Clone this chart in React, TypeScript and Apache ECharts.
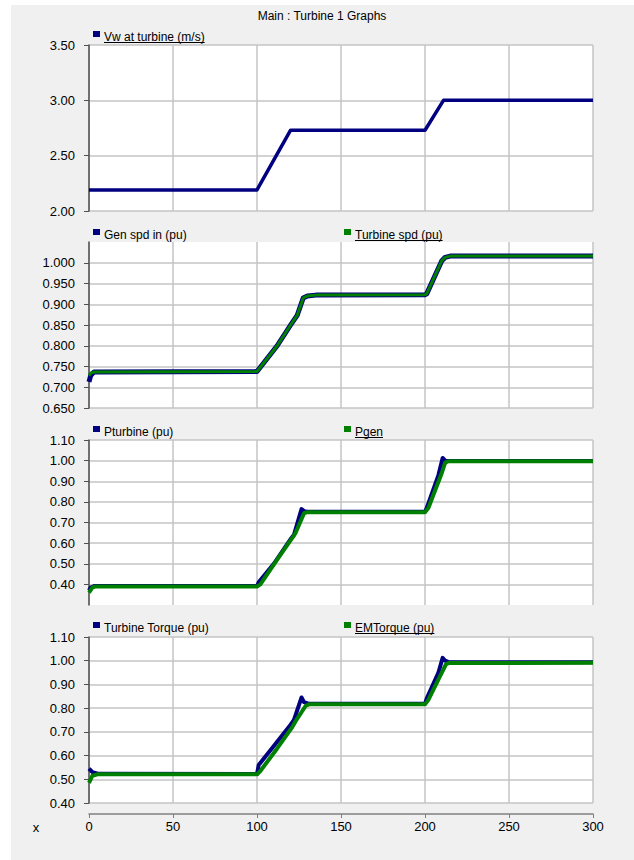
import React, { useEffect, useRef } from "react";
import * as echarts from "echarts";

const chartTitle = "Main : Turbine 1 Graphs";
const xTickValues = [0, 50, 100, 150, 200, 250, 300];

// Panel 1: wind speed
const vwT = [0, 100, 120, 200, 211, 300];
const vwV = [2.19, 2.19, 2.73, 2.73, 3.0, 3.0];

// Panel 2: speeds
const genSpdT = [0, 1, 3, 100, 112, 120, 124, 127.5, 130, 135, 200, 201, 210, 212, 215, 300];
const genSpdV = [0.713, 0.728, 0.737, 0.738, 0.80, 0.85, 0.874, 0.915, 0.92, 0.922, 0.923, 0.925, 1.005, 1.013, 1.016, 1.016];
const turbSpdT = [0, 1, 3, 100, 112, 120, 124, 127.5, 130, 135, 200, 201, 210, 212, 215, 300];
const turbSpdV = [0.728, 0.734, 0.737, 0.738, 0.80, 0.85, 0.874, 0.915, 0.92, 0.922, 0.923, 0.925, 1.005, 1.013, 1.016, 1.016];

// Panel 3: powers
const pTurbT = [0, 1, 3, 100, 101, 110, 120, 122, 126.5, 128, 130, 200, 201, 208, 210.5, 212, 214, 300];
const pTurbV = [0.37, 0.385, 0.392, 0.392, 0.41, 0.50, 0.62, 0.64, 0.765, 0.755, 0.752, 0.752, 0.77, 0.93, 1.013, 1.0, 0.998, 0.998];
const pGenT = [0, 2, 4, 100, 102, 112, 121, 123, 128, 130, 200, 202, 210, 212, 214, 300];
const pGenV = [0.36, 0.385, 0.39, 0.39, 0.40, 0.52, 0.625, 0.65, 0.745, 0.75, 0.75, 0.77, 0.94, 0.99, 0.997, 0.997];

// Panel 4: torques
const tTurbT = [0, 2, 6, 100, 101, 110, 120, 122, 126.5, 128, 131, 200, 201, 208, 210.5, 212, 214, 300];
const tTurbV = [0.545, 0.53, 0.523, 0.522, 0.56, 0.64, 0.73, 0.75, 0.845, 0.825, 0.818, 0.818, 0.84, 0.95, 1.012, 1.0, 0.994, 0.993];
const tEmT = [0, 2, 5, 100, 102, 112, 121, 123, 129, 131, 200, 202, 210, 212.5, 214, 300];
const tEmV = [0.485, 0.515, 0.521, 0.521, 0.535, 0.63, 0.72, 0.745, 0.81, 0.816, 0.816, 0.835, 0.95, 0.985, 0.99, 0.991];

const legendNames = [
  ["Vw at turbine (m/s)"],
  ["Gen spd in (pu)", "Turbine spd (pu)"],
  ["Pturbine (pu)", "Pgen"],
  ["Turbine Torque (pu)", "EMTorque (pu)"],
];

const BLUE = "#000080";
const GREEN = "#008000";
const FONT = "'Liberation Sans', Arial, sans-serif";

function zip(t: number[], v: number[]) {
  return t.map((x, i) => [x, v[i]]);
}

function textWidth(s: string, font: string) {
  const c = document.createElement("canvas").getContext("2d");
  if (!c) return s.length * 6;
  c.font = font;
  return c.measureText(s).width;
}

export default function App() {
  const ref = useRef<HTMLDivElement>(null);

  useEffect(() => {
    if (!ref.current) return;
    const chart = echarts.init(ref.current, undefined, { renderer: "svg" });

    const grids = [
      { top: 45, height: 166 },
      { top: 242, height: 166 },
      { top: 440, height: 165 },
      { top: 637, height: 166 },
    ].map((g) => ({
      left: 89,
      right: 41,
      top: g.top,
      height: g.height,
      show: true,
      backgroundColor: "#ffffff",
      borderWidth: 0,
    }));

    const yCfg = [
      { min: 2, max: 3.5, interval: 0.5, dec: 2 },
      { min: 0.65, max: 1.05, interval: 0.05, dec: 3, hideMax: true },
      { min: 0.3, max: 1.1, interval: 0.1, dec: 2, hideMin: true },
      { min: 0.4, max: 1.1, interval: 0.1, dec: 2 },
    ];

    const yAxis = yCfg.map((c: any, i) => ({
      type: "value",
      gridIndex: i,
      min: c.min,
      max: c.max,
      interval: c.interval,
      axisLine: { show: true, lineStyle: { color: "#505050", width: 1.5 } },
      axisTick: { show: true, length: 5, lineStyle: { color: "#505050" } },
      axisLabel: {
        color: "#000",
        fontSize: 13,
        fontFamily: FONT,
        margin: 14,
        showMaxLabel: c.hideMax ? false : true,
        showMinLabel: c.hideMin ? false : true,
        formatter: (v: number) => v.toFixed(c.dec),
      },
      splitLine: {
        show: true,
        showMaxLine: c.hideMax ? false : true,
        showMinLine: c.hideMin ? false : true,
        lineStyle: { color: "#c4c4c4", width: 1.5 },
      },
    }));

    const xAxis = [0, 1, 2, 3].map((i) => ({
      type: "value",
      gridIndex: i,
      min: xTickValues[0],
      max: xTickValues[xTickValues.length - 1],
      interval: 50,
      offset: i === 3 ? 11 : 0,
      axisLine: { show: i === 3, onZero: false, lineStyle: { color: "#808080", width: 1.5 } },
      axisTick: { show: i === 3, length: 4, lineStyle: { color: "#808080" } },
      axisLabel: {
        show: i === 3,
        color: "#000",
        fontSize: 13,
        fontFamily: FONT,
        margin: 6,
      },
      splitLine: { show: true, lineStyle: { color: "#c4c4c4", width: 1.5 } },
    }));

    const mk = (name: string, data: number[][], idx: number, color: string, width: number, z: number) => ({
      type: "line",
      name,
      xAxisIndex: idx,
      yAxisIndex: idx,
      data,
      showSymbol: false,
      symbol: "none",
      z,
      lineStyle: { color, width, join: "round" },
      itemStyle: { color },
    });

    const series = [
      mk(legendNames[0][0], zip(vwT, vwV), 0, BLUE, 3.5, 2),
      mk(legendNames[1][0], zip(genSpdT, genSpdV), 1, BLUE, 5, 2),
      mk(legendNames[1][1], zip(turbSpdT, turbSpdV), 1, GREEN, 3, 3),
      mk(legendNames[2][0], zip(pTurbT, pTurbV), 2, BLUE, 4, 2),
      mk(legendNames[2][1], zip(pGenT, pGenV), 2, GREEN, 4, 3),
      mk(legendNames[3][0], zip(tTurbT, tTurbV), 3, BLUE, 4, 2),
      mk(legendNames[3][1], zip(tEmT, tEmV), 3, GREEN, 4, 3),
    ];

    const legendY = [37, 235, 432, 628];
    const legendFont = `12px ${FONT}`;
    const graphic: any[] = [
      { type: "rect", silent: true, shape: { x: 0, y: 0, width: 11, height: 860 }, style: { fill: "#ffffff" } },
      { type: "rect", silent: true, shape: { x: 0, y: 0, width: 634, height: 5 }, style: { fill: "#ffffff" } },
      {
        type: "text",
        x: 322,
        y: 16,
        style: { text: chartTitle, fill: "#000", font: `12px ${FONT}`, textAlign: "center", textVerticalAlign: "middle" },
      },
      {
        type: "text",
        x: 36,
        y: 827,
        style: { text: "x", fill: "#000", font: `13px ${FONT}`, textAlign: "center", textVerticalAlign: "middle" },
      },
    ];
    legendNames.forEach((names, p) => {
      names.forEach((n, j) => {
        const color = j === 0 ? BLUE : GREEN;
        const mx = j === 0 ? 93 : 344;
        const tx = j === 0 ? 104 : 355;
        const y = legendY[p];
        const underline = names.length === 1 || j === 1;
        graphic.push({
          type: "rect",
          silent: true,
          shape: { x: mx, y: y - 6, width: 7, height: 6 },
          style: { fill: color },
        });
        graphic.push({
          type: "text",
          x: tx,
          y: y,
          style: { text: n, fill: "#000", font: legendFont, textAlign: "left", textVerticalAlign: "middle" },
        });
        if (underline) {
          const w = textWidth(n, legendFont);
          graphic.push({
            type: "line",
            silent: true,
            shape: { x1: tx, y1: y + 5.5, x2: tx + w, y2: y + 5.5 },
            style: { stroke: "#000", lineWidth: 1 },
          });
        }
      });
    });

    chart.setOption({
      animation: false,
      backgroundColor: "#f0f0f0",
      grid: grids,
      xAxis,
      yAxis,
      series,
      graphic,
    });

    return () => chart.dispose();
  }, []);

  return (
    <div style={{ position: "absolute", left: 0, top: 0, width: 634, height: 860 }}>
      <div ref={ref} style={{ width: 634, height: 860 }} />
    </div>
  );
}
